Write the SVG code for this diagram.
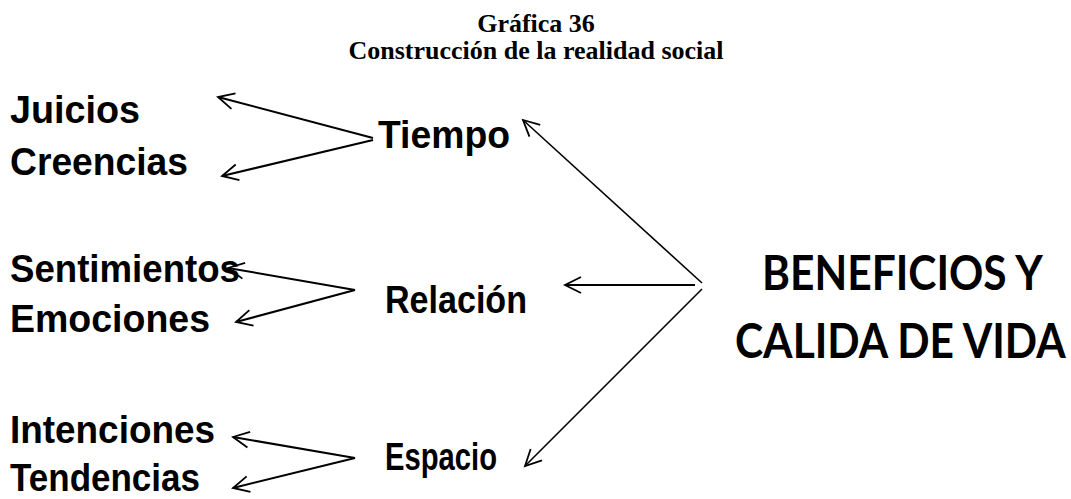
<svg xmlns="http://www.w3.org/2000/svg" width="1071" height="499" viewBox="0 0 1071 499">
<style>
.t{font-family:"Liberation Serif","Times New Roman",serif;font-weight:bold;font-size:26px;fill:#000}
.l{font-family:"Liberation Sans",Arial,sans-serif;font-weight:bold;font-size:38px;fill:#000}
.b{font-family:Lato,"Open Sans",sans-serif;font-weight:bold;font-size:48px;fill:#000}
.c{stroke:#000;stroke-width:2;fill:none}
.d{stroke:#000;stroke-width:1.6;fill:none}
</style>
<defs>
<marker id="ah" markerUnits="userSpaceOnUse" viewBox="-20 -12 24 24" markerWidth="24" markerHeight="24" refX="0" refY="0" orient="auto">
<path d="M-16,-8 L0,0 L-16,8" fill="none" stroke="#000" stroke-width="1.8"/>
</marker>
</defs>
<rect width="1071" height="499" fill="#fff"/>
<g id="title">
<text class="t" x="536" y="32" text-anchor="middle">Gráfica 36</text>
<text class="t" x="536" y="59" text-anchor="middle">Construcción de la realidad social</text>
</g>
<g id="juicios"><text class="l" x="10" y="123" textLength="130" lengthAdjust="spacingAndGlyphs">Juicios</text></g>
<g id="creencias"><text class="l" x="10" y="175" textLength="178" lengthAdjust="spacingAndGlyphs">Creencias</text></g>
<g id="tiempo"><text class="l" x="378" y="148" textLength="132" lengthAdjust="spacingAndGlyphs">Tiempo</text></g>
<g id="sentimientos"><text class="l" x="10" y="282" textLength="230" lengthAdjust="spacingAndGlyphs">Sentimientos</text></g>
<g id="emociones"><text class="l" x="10" y="332" textLength="200" lengthAdjust="spacingAndGlyphs">Emociones</text></g>
<g id="relacion"><text class="l" x="385" y="313" textLength="142" lengthAdjust="spacingAndGlyphs">Relación</text></g>
<g id="intenciones"><text class="l" x="10" y="443" textLength="205" lengthAdjust="spacingAndGlyphs">Intenciones</text></g>
<g id="tendencias"><text class="l" x="10" y="491" textLength="190" lengthAdjust="spacingAndGlyphs">Tendencias</text></g>
<g id="espacio"><text class="l" x="385" y="470" textLength="112" lengthAdjust="spacingAndGlyphs">Espacio</text></g>
<g id="beneficios">
<text class="b" transform="translate(762,290) scale(0.886,1)" x="0" y="0">BENEFICIOS Y</text>
<text class="b" transform="translate(735,358) scale(0.886,1)" x="0" y="0">CALIDA DE VIDA</text>
</g>
<g id="connectors">
<line class="c" x1="373" y1="138" x2="218" y2="97" marker-end="url(#ah)"/>
<line class="c" x1="373" y1="140" x2="222" y2="176" marker-end="url(#ah)"/>
<line class="c" x1="355" y1="290" x2="228" y2="268" marker-end="url(#ah)"/>
<line class="c" x1="355" y1="290" x2="236" y2="322" marker-end="url(#ah)"/>
<line class="c" x1="355" y1="458" x2="233" y2="437" marker-end="url(#ah)"/>
<line class="c" x1="355" y1="458" x2="233" y2="488" marker-end="url(#ah)"/>
<line class="c" x1="695" y1="285" x2="565" y2="285" marker-end="url(#ah)"/>
<line class="d" x1="702" y1="283" x2="523" y2="120" marker-end="url(#ah)"/>
<line class="d" x1="702" y1="289" x2="525" y2="466" marker-end="url(#ah)"/>
</g>
</svg>
